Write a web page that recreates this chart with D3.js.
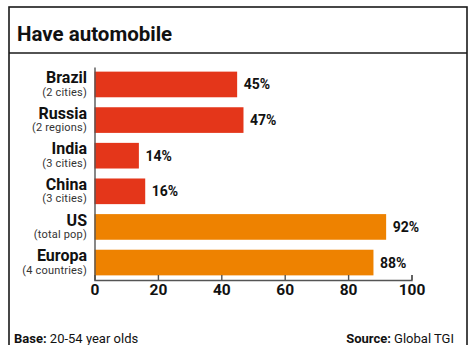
<!DOCTYPE html>
<html>
<head>
<meta charset="utf-8">
<script src="https://cdn.jsdelivr.net/npm/d3@7"></script>
<style>
  html, body { margin: 0; padding: 0; background: #fff; }
  svg { display: block; font-family: Roboto, "DejaVu Sans", sans-serif; }
</style>
</head>
<body>
<svg id="chart" width="470" height="345"></svg>
<script>
// Car ownership among 20-54 year olds, by market
const categories = ["Brazil", "Russia", "India", "China", "US", "Europa"];
const notes = ["(2 cities)", "(2 regions)", "(3 cities)", "(3 cities)", "(total pop)", "(4 countries)"];
const values = [45, 47, 14, 16, 92, 88];
const groups = ["emerging", "emerging", "emerging", "emerging", "developed", "developed"];
const tickValues = [0, 20, 40, 60, 80, 100];

const groupColors = { emerging: "#e4361a", developed: "#ee8200" };

const svg = d3.select("#chart");

// Frame and title band
svg.append("rect")
  .attr("x", 9).attr("y", 7)
  .attr("width", 458).attr("height", 360)
  .attr("fill", "none").attr("stroke", "#1a1a1a").attr("stroke-width", 1.6);
svg.append("line")
  .attr("x1", 9).attr("x2", 467).attr("y1", 53).attr("y2", 53)
  .attr("stroke", "#1a1a1a").attr("stroke-width", 1.4);
svg.append("text")
  .attr("x", 17).attr("y", 41)
  .attr("font-size", 20.5).attr("font-weight", 700).attr("fill", "#111")
  .text("Have automobile");

// Scales
const x = d3.scaleLinear().domain([0, 100]).range([94.5, 411.5]);
const y = d3.scaleBand().domain(categories).range([67, 280])
  .paddingInner(0.28).paddingOuter(0.13);

// Bars
const rows = categories.map((c, i) => ({ c, note: notes[i], v: values[i], g: groups[i] }));

svg.append("g").selectAll("rect").data(rows).join("rect")
  .attr("x", x(0))
  .attr("y", d => y(d.c))
  .attr("width", d => x(d.v) - x(0))
  .attr("height", y.bandwidth())
  .attr("fill", d => groupColors[d.g]);

// Value labels
svg.append("g").selectAll("text").data(rows).join("text")
  .attr("x", d => x(d.v) + 6.5)
  .attr("y", d => y(d.c) + y.bandwidth() / 2 + 5)
  .attr("font-size", 14).attr("font-weight", 700).attr("fill", "#111")
  .text(d => d.v + "%");

// Category labels with notes
const lab = svg.append("g").selectAll("g").data(rows).join("g")
  .attr("transform", d => `translate(87,${y(d.c)})`)
  .attr("text-anchor", "end");
lab.append("text")
  .attr("y", 11.5)
  .attr("font-size", 16).attr("font-weight", 700).attr("fill", "#111")
  .text(d => d.c);
lab.append("text")
  .attr("y", 24)
  .attr("font-size", 11).attr("fill", "#333")
  .attr("letter-spacing", 0.2)
  .text(d => d.note);

// Vertical baseline
svg.append("g")
  .attr("transform", `translate(${x(0)},0)`)
  .call(d3.axisLeft(y).tickValues([]).tickSizeOuter(0))
  .call(g => g.select(".domain").attr("stroke", "#555").attr("stroke-width", 1.4));

// Value axis with upward ticks
const xAxis = svg.append("g")
  .attr("transform", "translate(0,280)")
  .call(d3.axisBottom(x).tickValues(tickValues).tickSize(-5).tickSizeOuter(-5));
xAxis.select(".domain").attr("stroke", "#555").attr("stroke-width", 1.4);
xAxis.selectAll(".tick line").attr("stroke", "#555").attr("stroke-width", 1.4);
xAxis.selectAll(".tick text")
  .attr("y", 15).attr("dy", 0)
  .attr("font-family", "Roboto, sans-serif")
  .attr("font-size", 15.5).attr("font-weight", 700).attr("fill", "#111");

// Footer
const base = svg.append("text").attr("x", 14).attr("y", 342.5)
  .attr("font-size", 13).attr("fill", "#111");
base.append("tspan").attr("font-weight", 700).text("Base:");
base.append("tspan").text(" 20-54 year olds");

const src = svg.append("text").attr("x", 454).attr("y", 342.5)
  .attr("text-anchor", "end")
  .attr("font-size", 13).attr("fill", "#111");
src.append("tspan").attr("font-weight", 700).text("Source:");
src.append("tspan").text(" Global TGI");
</script>
</body>
</html>
